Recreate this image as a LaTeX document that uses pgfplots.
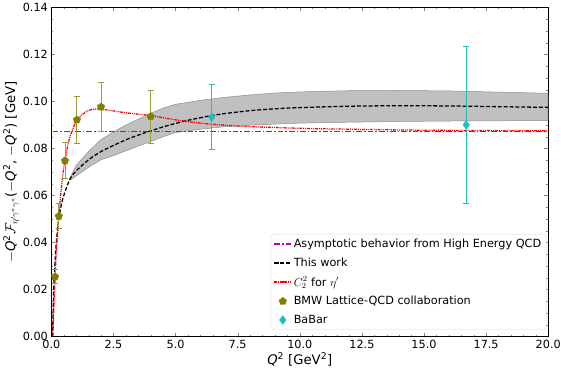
\documentclass[border=0pt]{standalone}
\usepackage{fontspec}
\setmainfont{DejaVu Sans}
\usepackage{pgfplots}
\pgfplotsset{compat=1.18}
\usetikzlibrary{plotmarks}
\definecolor{mplmag}{RGB}{191,0,191}
\definecolor{mplolive}{RGB}{128,128,0}
\definecolor{oliveerr}{RGB}{156,156,56}
\definecolor{mplcyan}{RGB}{34,189,189}
\definecolor{bandgray}{RGB}{192,192,192}
% stroke colours written straight into the page stream
\makeatletter
\newcommand\rawstroke[1]{\pgfsys@invoke{#1 RG}}
\makeatother
\begin{document}
\begin{tikzpicture}
\begin{axis}[
  name=ax,
  width=506bp, height=335bp, scale only axis,
  xmin=0, xmax=20, ymin=0, ymax=0.14,
  xtick={0,2.5,...,20}, minor x tick num=4,
  ytick={0,0.02,...,0.14}, minor y tick num=3,
  scaled y ticks=false,
  tick align=inside,
  major tick length=4bp, minor tick length=2bp,
  xticklabel style={/pgf/number format/.cd, fixed, fixed zerofill, precision=1},
  yticklabel style={/pgf/number format/.cd, fixed, fixed zerofill, precision=2},
  /pgf/number format/assume math mode=true,
  tick label style={font=\fontsize{11.5}{13}\selectfont},
  label style={font=\fontsize{13.5}{15}\selectfont},
  xlabel={\textit{Q}\textsuperscript{2} [GeV\textsuperscript{2}]},
  ylabel={$-$\textit{Q}\textsuperscript{2}$\mathcal{F}_{\eta'\gamma^*\gamma^*}$($-$\textit{Q}\textsuperscript{2}, $-$\textit{Q}\textsuperscript{2}) [GeV]},
  xlabel style={yshift=3bp},
  ylabel style={yshift=-3bp},
  legend style={at={(0.996,0.02)}, anchor=south east, draw=black!15, rounded corners=2pt,
    font=\fontsize{11.5}{14}\selectfont, row sep=5bp, inner sep=3pt},
  legend cell align=left,
]
% uncertainty band of this work (upper edge, then lower edge reversed)
\addplot[fill=bandgray, draw=black!45, line width=0.5pt, forget plot] coordinates {
  (0.75,0.0675)(1,0.0728)(1.5,0.0787)(2,0.0838)(2.5,0.0870)(3,0.0900)(3.5,0.0925)
  (4,0.0950)(4.5,0.0972)(5,0.0988)(6,0.1005)(7,0.1018)(8,0.1028)(9,0.1036)(10,0.1041)
  (12,0.1046)(14,0.1047)(16,0.1045)(18,0.1040)(20,0.1035)
  (20,0.0919)(18,0.0918)(16,0.0917)(14,0.0915)(12,0.0912)(10,0.0908)(9,0.0904)(8,0.0899)
  (7,0.0893)(6,0.0882)(5,0.0868)(4.5,0.0850)(4,0.0830)(3.5,0.0810)(3,0.0790)(2.5,0.0770)
  (2,0.0752)(1.5,0.0720)(1,0.0683)(0.75,0.0665)(0.75,0.0675)
};
% asymptotic behaviour
\addplot[mplmag, /utils/exec={\rawstroke{0.749 0 0.749}}, line width=1.3pt,
  dash pattern=on 6pt off 2pt on 1.5pt off 2pt,
  legend image post style={/utils/exec={\rawstroke{0.749 0 0.749}}}] coordinates {
  (0.05,0.0871)(20,0.0871)
};
\addlegendentry{Asymptotic behavior from High Energy QCD}
% this work
\addplot[black, /utils/exec={\rawstroke{0 0 0}}, line width=1.3pt, dash pattern=on 4pt off 2pt, smooth,
  legend image post style={/utils/exec={\rawstroke{0 0 0}}}] coordinates {
  (0.05,0)(0.08,0.014)(0.1,0.021)(0.15,0.032)(0.2,0.040)(0.3,0.050)(0.4,0.056)(0.5,0.060)
  (0.75,0.0670)(1,0.0705)(1.5,0.0752)(2,0.0787)(2.5,0.0813)(3,0.0837)(3.5,0.0857)
  (4,0.0875)(4.5,0.0892)(5,0.0907)(5.5,0.0920)(6,0.0931)(6.5,0.0941)(7,0.0949)
  (8,0.0961)(9,0.0969)(10,0.0974)(12,0.0980)(14,0.0982)(16,0.0981)(18,0.0978)(20,0.0975)
};
\addlegendentry{This work}
% C_2^2 for eta'
\addplot[red, /utils/exec={\rawstroke{1 0 0}}, line width=1.3pt,
  dash pattern=on 3pt off 1pt on 1pt off 1pt on 1pt off 1pt, smooth,
  legend image post style={/utils/exec={\rawstroke{1 0 0}}}] coordinates {
  (0.06,0)(0.1,0.012)(0.15,0.025)(0.2,0.036)(0.3,0.051)(0.4,0.063)(0.5,0.072)(0.6,0.078)
  (0.75,0.085)(1,0.0915)(1.25,0.0945)(1.5,0.0962)(1.75,0.0968)(2,0.0967)(2.5,0.0960)
  (3,0.0952)(3.5,0.0946)(4,0.0940)(5,0.0922)(6,0.0908)(7,0.0899)(8,0.0893)(10,0.0886)
  (12,0.0882)(14,0.0879)(16,0.0877)(18,0.0876)(20,0.0875)
};
\addlegendentry{$C_2^2$ for $\eta'$}
% BMW lattice points
\addplot[only marks, mark=pentagon*, mark size=4pt, mplolive,
  error bars/.cd, y dir=both, y explicit,
  error bar style={oliveerr, /utils/exec={\rawstroke{0.612 0.612 0.22}}, line width=1pt},
  error mark options={oliveerr, /utils/exec={\rawstroke{0.612 0.612 0.22}}, line width=1pt,
    mark size=3pt, rotate=90}] coordinates {
  (0.15,0.0254) +- (0,0.0030)
  (0.30,0.0512) +- (0,0.0052)
  (0.55,0.0748) +- (0,0.0077)
  (1.03,0.0922) +- (0,0.0100)
  (2.0,0.0977) +- (0,0.0103)
  (4.0,0.0936) +- (0,0.0113)
};
\addlegendentry{BMW Lattice-QCD collaboration}
% BaBar
\addplot[only marks, mark=diamond*, mark size=4.5pt, mplcyan,
  error bars/.cd, y dir=both, y explicit,
  error bar style={mplcyan, /utils/exec={\rawstroke{0.133 0.741 0.741}}, line width=1pt},
  error mark options={mplcyan, /utils/exec={\rawstroke{0.133 0.741 0.741}}, line width=1pt,
    mark size=3pt, rotate=90}] coordinates {
  (6.45,0.0933) +- (0,0.0139)
  (16.7,0.0901) +- (0,0.0335)
};
\addlegendentry{BaBar}
\end{axis}
\pgfresetboundingbox
\coordinate (R) at (ax.outer north east -| ax.east);
\path[use as bounding box] (ax.outer south west) rectangle ([xshift=13bp]R);
\end{tikzpicture}
\end{document}
